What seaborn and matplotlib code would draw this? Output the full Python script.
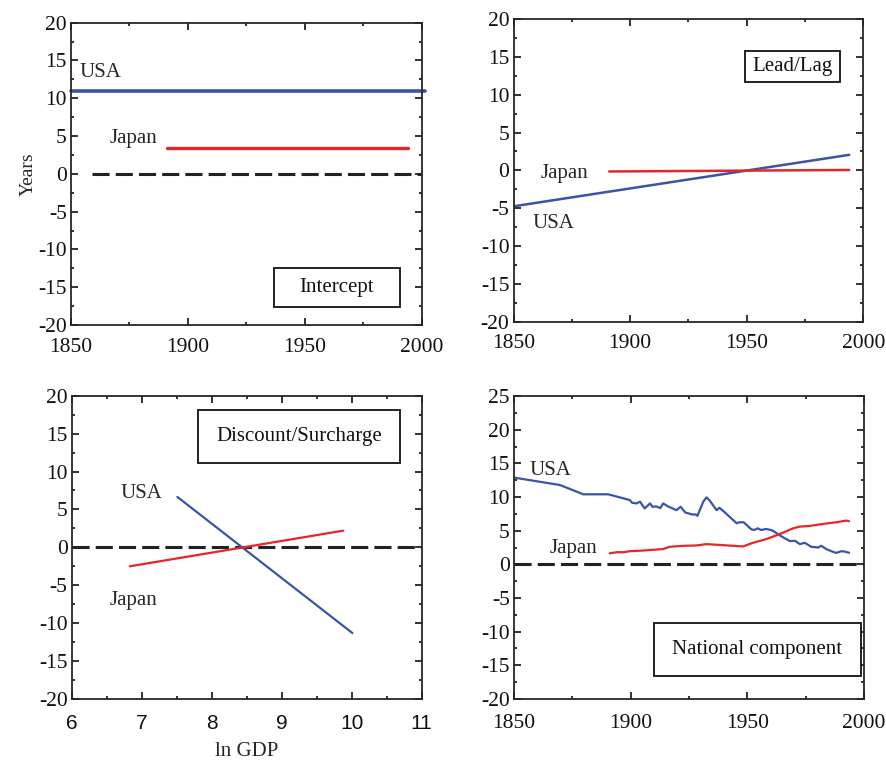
import numpy as np
import pandas as pd
import seaborn as sns
import matplotlib.pyplot as plt
from matplotlib.ticker import MultipleLocator
from matplotlib.patches import Rectangle

# --- data ---
# Intercept (years vs. calendar year)
icpt_usa_x = [1850, 2001.5]
icpt_usa_y = [11.0, 11.0]
icpt_jpn_x = [1891, 1994]
icpt_jpn_y = [3.45, 3.45]
icpt_zero_x = [1859, 2000]

# Lead/Lag
lag_usa_x = [1850, 1994]
lag_usa_y = [-4.75, 2.05]
lag_jpn_x = [1891, 1994]
lag_jpn_y = [-0.15, 0.05]

# Discount/Surcharge (vs ln GDP)
disc_usa_x = [7.51, 10.01]
disc_usa_y = [6.65, -11.3]
disc_jpn_x = [6.83, 9.88]
disc_jpn_y = [-2.5, 2.2]
disc_zero_x = [6, 11]

# National component
nat_usa_x = [1850.4, 1869.7, 1879.7, 1890.4, 1899.6, 1900.6, 1902.4, 1904.0, 1906.0,
             1908.3, 1909.3, 1911.0, 1912.7, 1913.9, 1916.0, 1919.6, 1921.4, 1923.4,
             1926.4, 1927.9, 1928.6, 1931.1, 1932.5, 1933.9, 1936.8, 1938.0, 1940.4,
             1945.4, 1946.6, 1948.4, 1951.7, 1953.0, 1954.4, 1955.9, 1958.0, 1960.1,
             1961.6, 1963.7, 1966.1, 1968.3, 1970.4, 1972.5, 1974.6, 1977.4, 1980.3,
             1981.7, 1983.9, 1986.0, 1988.1, 1990.3, 1991.7, 1993.6]
nat_usa_y = [12.86, 11.78, 10.4, 10.4, 9.55, 9.15, 9.05, 9.3, 8.3,
             9.05, 8.55, 8.6, 8.35, 9.05, 8.6, 8.05, 8.55, 7.7,
             7.4, 7.4, 7.2, 9.3, 9.95, 9.45, 8.05, 8.4, 7.7,
             6.1, 6.25, 6.25, 5.2, 5.1, 5.35, 5.1, 5.25, 5.1,
             4.85, 4.35, 3.85, 3.45, 3.5, 3.0, 3.2, 2.6, 2.5,
             2.75, 2.25, 1.95, 1.7, 1.95, 1.9, 1.72]
nat_jpn_x = [1891.0, 1894.0, 1897.0, 1899.6, 1905.4, 1913.9, 1916.7, 1922.4, 1928.1,
             1932.4, 1939.6, 1948.1, 1952.4, 1958.1, 1963.9, 1969.6, 1972.4, 1976.7,
             1982.4, 1988.1, 1992.4, 1993.6]
nat_jpn_y = [1.63, 1.8, 1.8, 1.95, 2.05, 2.27, 2.6, 2.75, 2.8,
             3.0, 2.85, 2.65, 3.2, 3.75, 4.5, 5.35, 5.6, 5.7,
             6.0, 6.25, 6.5, 6.4]
nat_zero_x = [1850, 2000]

BLUE = "#3b54a5"
RED = "#e5262b"
DASH = "#222222"

sns.set_style("ticks")
plt.rcParams["font.family"] = ["Liberation Serif", "DejaVu Serif"]
plt.rcParams["axes.linewidth"] = 1.3
plt.rcParams["axes.unicode_minus"] = False

fig = plt.figure(figsize=(8.87, 7.61), dpi=100)
ax1 = fig.add_axes([0.0800, 0.5729, 0.3954, 0.3973])
ax2 = fig.add_axes([0.5791, 0.5773, 0.3941, 0.3977])
ax3 = fig.add_axes([0.0808, 0.0815, 0.3946, 0.3985])
ax4 = fig.add_axes([0.5795, 0.0815, 0.3946, 0.3981])


def line(ax, x, y, color, lw=1.6, clip=True):
    sns.lineplot(x=x, y=y, color=color, lw=lw, estimator=None, sort=False, ax=ax)
    ax.lines[-1].set_clip_on(clip)


def zero(ax, x):
    ax.plot(x, [0] * len(x), color=DASH, lw=2.2, dashes=(5.6, 2.0))


def style(ax, xlim, xmaj, xmin, ylim):
    ax.set_xlim(*xlim)
    ax.set_ylim(*ylim)
    ax.xaxis.set_major_locator(MultipleLocator(xmaj))
    ax.xaxis.set_minor_locator(MultipleLocator(xmin))
    ax.yaxis.set_major_locator(MultipleLocator(5))
    ax.yaxis.set_minor_locator(MultipleLocator(2.5))
    ax.tick_params(which="both", direction="in", top=True, right=True, width=1.2,
                   labelsize=15.5, colors="#111111")
    ax.tick_params(axis="x", pad=9)
    ax.tick_params(axis="y", pad=3)
    ax.tick_params(which="major", length=5)
    ax.tick_params(which="minor", length=2.5)
    ax.set_xlabel("")
    ax.set_ylabel("")


def box(ax, x0, y0, x1, y1, text):
    ax.add_patch(Rectangle((x0, y0), x1 - x0, y1 - y0, transform=ax.transAxes,
                           fc="white", ec="#111111", lw=1.3, zorder=5))
    ax.text((x0 + x1) / 2, (y0 + y1) / 2, text, transform=ax.transAxes,
            ha="center", va="center", fontsize=15, zorder=6, color="#111111")


# Intercept
line(ax1, icpt_usa_x, icpt_usa_y, BLUE, lw=2.6, clip=False)
line(ax1, icpt_jpn_x, icpt_jpn_y, RED, lw=2.4)
zero(ax1, icpt_zero_x)
style(ax1, (1850, 2000), 50, 25, (-20, 20))
ax1.text(1853.5, 13.4, "USA", fontsize=15, va="center")
ax1.text(1866.5, 4.7, "Japan", fontsize=15, va="center")
box(ax1, 0.579, 0.0595, 0.938, 0.1886, "Intercept")
ax1.set_ylabel("Years", fontsize=14, labelpad=1)

# Lead/Lag
line(ax2, lag_usa_x, lag_usa_y, BLUE, lw=1.8)
line(ax2, lag_jpn_x, lag_jpn_y, RED, lw=1.8)
style(ax2, (1850, 2000), 50, 25, (-20, 20))
ax2.text(1872, -0.45, "Japan", fontsize=15, va="center", ha="center")
ax2.text(1867, -7.05, "USA", fontsize=15, va="center", ha="center")
box(ax2, 0.662, 0.791, 0.934, 0.895, "Lead/Lag")

# Discount/Surcharge
zero(ax3, disc_zero_x)
line(ax3, disc_usa_x, disc_usa_y, BLUE, lw=1.6)
line(ax3, disc_jpn_x, disc_jpn_y, RED, lw=1.6)
style(ax3, (6, 11), 1, 0.5, (-20, 20))
for lab in ax3.get_xticklabels():
    lab.set_family(["Liberation Sans", "DejaVu Sans"])
    lab.set_fontsize(15)
ax3.tick_params(axis="x", pad=11)
ax3.text(6.99, 7.1, "USA", fontsize=15, va="center", ha="center")
ax3.text(6.89, -7.0, "Japan", fontsize=15, va="center", ha="center")
box(ax3, 0.3617, 0.779, 0.938, 0.953, "Discount/Surcharge")
ax3.set_xlabel("ln GDP", fontsize=15, labelpad=6)

# National component
zero(ax4, nat_zero_x)
line(ax4, nat_usa_x, nat_usa_y, BLUE, lw=1.6)
line(ax4, nat_jpn_x, nat_jpn_y, RED, lw=1.6)
style(ax4, (1850, 2000), 50, 25, (-20, 25))
ax4.tick_params(axis="x", pad=11)
ax4.text(1865.4, 13.9, "USA", fontsize=15, va="center", ha="center")
ax4.text(1875.3, 2.4, "Japan", fontsize=15, va="center", ha="center")
box(ax4, 0.400, 0.076, 0.991, 0.252, "National component")

fig.savefig("out.png", dpi=100, facecolor="white")
